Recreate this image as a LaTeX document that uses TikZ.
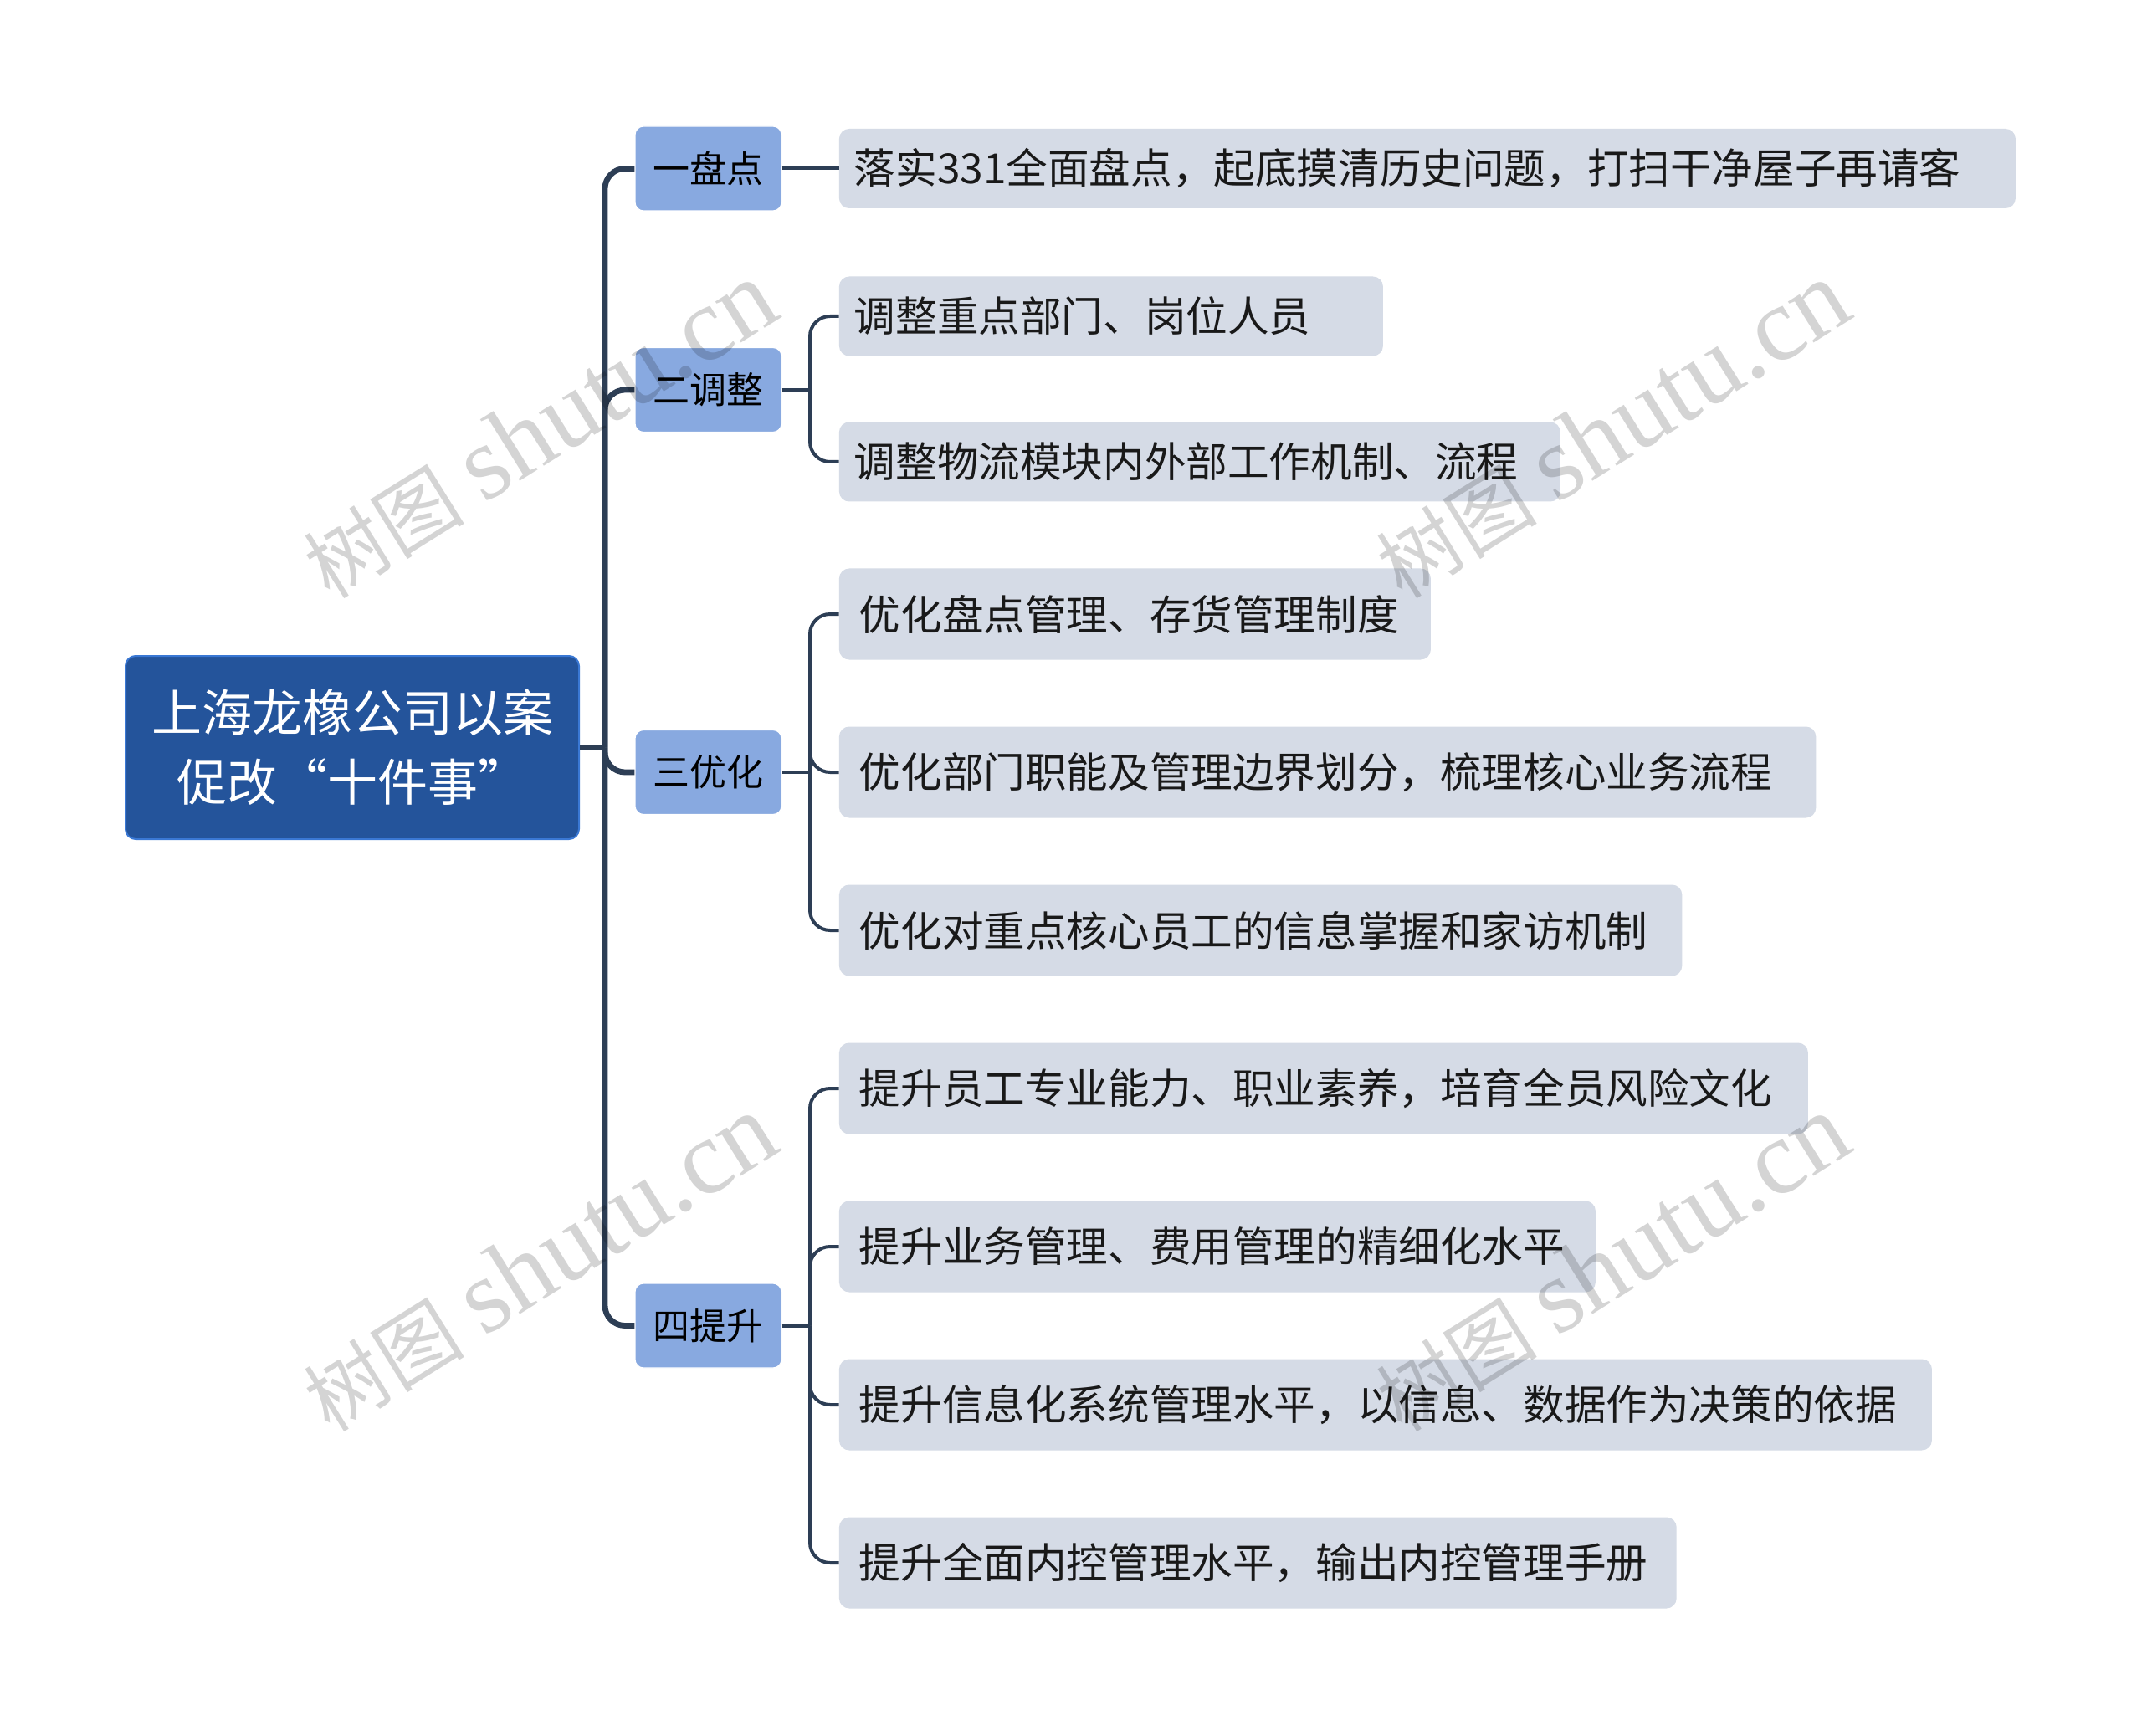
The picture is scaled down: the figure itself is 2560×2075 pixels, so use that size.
\documentclass[tikz,border=0pt]{standalone}
\usepackage{fontspec}
\newfontfamily\cjk{Noto Sans CJK SC}
\newfontfamily\wmserif{Liberation Serif}
\definecolor{rootblue}{HTML}{24549B}
\definecolor{rootborder}{HTML}{3A78D4}
\definecolor{lonefill}{HTML}{88A9E0}
\definecolor{leaffill}{HTML}{D5DBE6}
\definecolor{conn}{HTML}{2D3E55}
\begin{document}
\begin{tikzpicture}[x=0.5pt,y=-0.5pt,
  rootnode/.style={rounded corners=6pt, fill=rootblue, draw=rootborder, line width=1pt,
    text=white, font=\cjk\fontsize{30}{41.5}\selectfont, align=center,
    minimum width=271pt, minimum height=109.5pt, inner sep=0pt},
  lone/.style={rounded corners=5pt, fill=lonefill, draw=white, line width=0.6pt,
    text=black, font=\cjk\fontsize{22}{26}\selectfont,
    minimum width=87.5pt, minimum height=50.5pt, inner sep=0pt},
  leafa/.style={rounded corners=6pt, fill=leaffill, text=black!90,
    font=\cjk\fontsize{24.8}{30}\selectfont, anchor=west, align=left,
    inner xsep=9pt, inner ysep=0pt, text width=#1-18pt, minimum height=47.5pt},
  leafb/.style={rounded corners=6pt, fill=leaffill, text=black!90,
    font=\cjk\fontsize{24.8}{30}\selectfont, anchor=west, align=left,
    inner xsep=12pt, inner ysep=0pt, text width=#1-24pt, minimum height=54.5pt},
  trunk/.style={draw=conn, line width=3.4pt, rounded corners=12pt},
  twig/.style={draw=conn, line width=2pt, rounded corners=12pt},
  wmark/.style={text=black, text opacity=0.17, rotate=32, inner sep=0pt}
]
\useasboundingbox (0,0) rectangle (2560,2075);
\fill[white] (0,0) rectangle (2560,2075);

% root
\node[rootnode] (root) at (421,893.5) {上海龙橡公司以案\\促改“十件事”};

% level 1
\node[lone] (a) at (846.5,201.5) {一盘点};
\node[lone] (b) at (846.5,466) {二调整};
\node[lone] (c) at (846.5,923) {三优化};
\node[lone] (d) at (846.5,1584.5) {四提升};

% leaves
\node[leafa=703pt] (a1) at (1002.5,201.5) {落实331全面盘点，起底摸清历史问题，打扫干净屋子再请客};
\node[leafa=325pt] (b1) at (1002.5,378) {调整重点部门、岗位人员};
\node[leafa=431pt] (b2) at (1002.5,552) {调整物流模块内外部工作机制、流程};
\node[leafb=353.5pt] (c1) at (1002.5,734) {优化盘点管理、存货管理制度};
\node[leafb=583.7pt] (c2) at (1002.5,923) {优化部门职能及管理边界划分，梳理核心业务流程};
\node[leafb=503.7pt] (c3) at (1002.5,1112) {优化对重点核心员工的信息掌握和家访机制};
\node[leafb=579pt] (d1) at (1002.5,1301) {提升员工专业能力、职业素养，培育全员风险文化};
\node[leafb=452pt] (d2) at (1002.5,1490) {提升业务管理、费用管理的精细化水平};
\node[leafb=653pt] (d3) at (1002.5,1679) {提升信息化系统管理水平，以信息、数据作为决策的依据};
\node[leafb=500.4pt] (d4) at (1002.5,1868) {提升全面内控管理水平，输出内控管理手册};

% hubs
\coordinate (hub) at (723,893.5);
\coordinate (hb) at (968,466);
\coordinate (hc) at (968,923);
\coordinate (hd) at (968,1584.5);

% root -> level 1
\draw[trunk] (root.east) -- (hub);
\draw[trunk] (hub) |- (a.west);
\draw[trunk] (hub) |- (b.west);
\draw[trunk] (hub) |- (c.west);
\draw[trunk] (hub) |- (d.west);

% level 1 -> leaves
\draw[twig] (a.east) -- (a1.west);
\draw[twig] (b.east) -- (hb);
\draw[twig] (hb) |- (b1.west);
\draw[twig] (hb) |- (b2.west);
\draw[twig] (c.east) -- (hc);
\draw[twig] (hc) |- (c1.west);
\draw[twig] (hc) |- (c2.west);
\draw[twig] (hc) |- (c3.west);
\draw[twig] (d.east) -- (hd);
\draw[twig] (hd) |- (d1.west);
\draw[twig] (hd) |- (d2.west);
\draw[twig] (hd) |- (d3.west);
\draw[twig] (hd) |- (d4.west);

% watermarks
\newcommand\wmtext{{\cjk\fontsize{48}{48}\selectfont 树图}\hspace{12pt}{\wmserif\fontsize{63}{63}\selectfont shutu.cn}}
\node[wmark] (wm1) at (645,514) {\wmtext};
\node[wmark] (wm2) at (1927,514) {\wmtext};
\node[wmark] (wm3) at (645,1510) {\wmtext};
\node[wmark] (wm4) at (1927,1510) {\wmtext};
\end{tikzpicture}
\end{document}
